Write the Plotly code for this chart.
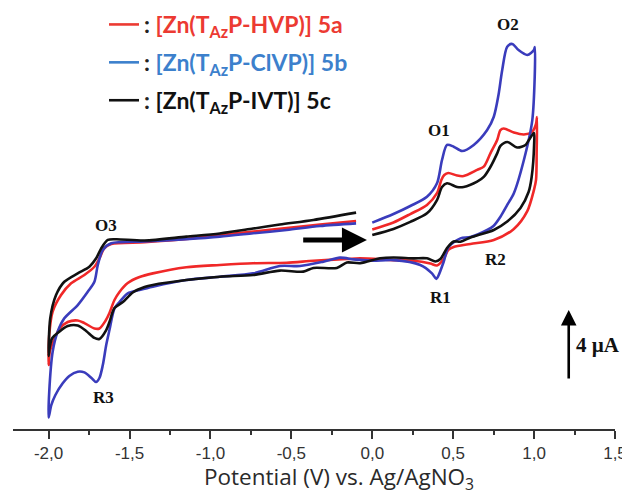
import plotly.graph_objects as go

# ---------------- data ----------------
# Potential in V vs Ag/AgNO3, current in microampere (arbitrary zero)
potential_5a = [0.00, 0.131, 0.235, 0.338, 0.400, 0.427, 0.445, 0.470, 0.524, 0.565, 0.648, 0.689, 0.730, 0.772, 0.792, 0.813, 0.875, 0.937, 0.989, 1.012, 1.018,
                1.016, 1.012, 0.999, 0.958, 0.875, 0.751, 0.607, 0.503, 0.470, 0.441, 0.400, 0.359, 0.255, 0.131, -0.075, -0.157, -0.364, -0.529, -0.736, -0.942, -1.149, -1.356, -1.438, -1.511, -1.562, -1.593, -1.624, -1.649, -1.686, -1.717, -1.779, -1.820, -1.882, -1.934, -1.975, -1.993, -2.0,
                -1.996, -1.975, -1.923, -1.861, -1.779, -1.717, -1.686, -1.655, -1.613, -1.407, -1.149, -0.942, -0.736, -0.529, -0.323, -0.100]
current_5a = [1.86, 2.26, 2.74, 3.26, 3.93, 4.69, 4.97, 5.09, 4.94, 4.91, 5.26, 5.45, 6.21, 6.97, 7.54, 7.63, 7.40, 7.29, 7.45, 7.89, 8.29,
              6.40, 4.69, 4.11, 2.91, 1.89, 1.26, 1.03, 0.86, 0.69, 0.17, -0.20, -0.09, 0.07, 0.11, 0.21, 0.17, 0.07, -0.04, -0.07, -0.17, -0.30, -0.65, -0.86, -1.20, -1.71, -2.17, -2.91, -3.37, -3.80, -3.80, -3.49, -3.34, -3.43, -3.83, -4.65, -5.14, -5.89,
              -4.17, -2.84, -1.89, -1.22, -0.74, -0.27, 0.21, 0.79, 1.03, 1.13, 1.31, 1.54, 1.74, 1.94, 2.14, 2.34]

potential_5b = [0.00, 0.131, 0.235, 0.338, 0.400, 0.431, 0.462, 0.503, 0.555, 0.627, 0.710, 0.751, 0.780, 0.803, 0.834, 0.865, 0.904, 0.958, 0.999, 1.005,
                0.989, 0.937, 0.875, 0.834, 0.792, 0.749, 0.710, 0.607, 0.545, 0.472, 0.441, 0.408, 0.396, 0.369, 0.297, 0.131, 0.007, -0.055, -0.116, -0.199, -0.302, -0.447, -0.571, -0.736, -0.942, -1.149, -1.356, -1.438, -1.511, -1.562, -1.593, -1.624, -1.644, -1.665, -1.686, -1.707, -1.735, -1.779, -1.820, -1.872, -1.913, -1.958, -1.983, -2.0,
                -1.996, -1.975, -1.944, -1.903, -1.820, -1.758, -1.717, -1.696, -1.665, -1.613, -1.407, -1.149, -0.942, -0.736, -0.529, -0.323, -0.100]
current_5b = [2.25, 2.74, 3.20, 3.73, 4.50, 5.83, 6.69, 6.59, 6.34, 6.69, 7.54, 8.30, 9.54, 10.97, 12.30, 12.46, 12.11, 11.83, 12.11, 12.29,
              8.11, 5.83, 3.93, 3.26, 2.59, 2.06, 1.83, 1.43, 1.35, 0.87, 0.00, -0.80, -0.97, -0.65, -0.17, 0.11, 0.07, 0.11, 0.15, 0.25, 0.02, -0.23, -0.23, -0.65, -0.84, -1.03, -1.41, -1.60, -1.79, -2.29, -2.65, -3.89, -4.74, -5.89, -6.63, -6.86, -6.63, -6.31, -6.27, -6.51, -6.93, -7.60, -8.17, -8.89,
              -7.41, -5.13, -3.98, -3.22, -2.46, -1.70, -1.13, -0.17, 0.69, 1.07, 1.17, 1.31, 1.45, 1.64, 1.83, 2.06, 2.21]

potential_5c = [0.00, 0.131, 0.235, 0.338, 0.400, 0.431, 0.462, 0.524, 0.565, 0.648, 0.689, 0.730, 0.772, 0.792, 0.834, 0.896, 0.947, 0.968, 0.999,
                1.000, 0.985, 0.966, 0.916, 0.834, 0.751, 0.607, 0.545, 0.503, 0.462, 0.421, 0.390, 0.338, 0.255, 0.131, 0.049, -0.075, -0.157, -0.219, -0.364, -0.426, -0.571, -0.736, -0.942, -1.149, -1.356, -1.407, -1.480, -1.541, -1.593, -1.624, -1.644, -1.686, -1.717, -1.768, -1.820, -1.882, -1.934, -1.977, -1.993, -2.0,
                -1.990, -1.954, -1.903, -1.820, -1.748, -1.706, -1.675, -1.634, -1.582, -1.407, -1.149, -0.942, -0.736, -0.571, -0.364, -0.100]
current_5c = [1.54, 1.89, 2.29, 2.78, 3.54, 4.29, 4.50, 4.29, 4.29, 4.59, 4.86, 5.43, 6.21, 6.63, 6.86, 6.54, 6.69, 6.97, 7.37,
              6.69, 4.86, 4.00, 3.09, 2.31, 1.83, 1.40, 1.16, 1.17, 0.80, 0.17, 0.03, 0.21, 0.21, 0.26, 0.21, -0.07, -0.03, -0.34, -0.34, -0.55, -0.49, -0.74, -0.84, -1.03, -1.31, -1.43, -1.74, -2.29, -2.63, -3.43, -3.89, -4.40, -4.34, -3.94, -3.63, -3.66, -3.98, -4.34, -4.86, -5.37,
              -3.22, -1.89, -1.13, -0.65, -0.27, 0.21, 0.78, 1.26, 1.30, 1.23, 1.45, 1.63, 1.91, 2.14, 2.40, 2.82]

legend_names = ["[Zn(T<sub>Az</sub>P-HVP)] 5a", "[Zn(T<sub>Az</sub>P-ClVP)] 5b", "[Zn(T<sub>Az</sub>P-IVT)] 5c"]
curve_colors = ["#f02828", "#3a3cbc", "#111111"]
legend_colors = ["#ec3a32", "#3c80cc", "#111111"]

tick_values = [-2.0, -1.5, -1.0, -0.5, 0.0, 0.5, 1.0, 1.5]
tick_labels = ["-2,0", "-1,5", "-1,0", "-0,5", "0,0", "0,5", "1,0", "1,5"]
minor_tick_values = [-1.75, -1.25, -0.75, -0.25, 0.25, 0.75, 1.25]

peak_labels = ["O1", "O2", "O3", "R1", "R2", "R3"]
peak_potential = [0.414, 0.836, -1.643, 0.421, 0.761, -1.661]
peak_current = [7.49, 13.6, 2.06, -2.0, 0.17, -7.77]

scan_arrow_from = (-0.436, 1.26)
scan_arrow_to = (-0.033, 1.26)
scale_bar_potential = 1.214
scale_bar_bottom = -6.74
scale_bar_size = 4.0  # microampere

# ---------------- figure ----------------
fig = go.Figure()
series = [(potential_5a, current_5a), (potential_5b, current_5b), (potential_5c, current_5c)]
for (xv, yv), col in zip(series, curve_colors):
    fig.add_trace(go.Scatter(x=xv, y=yv, mode="lines", showlegend=False,
                             line=dict(color=col, width=2.6, shape="spline", smoothing=0.8),
                             hoverinfo="skip"))

for i, (name, lc) in enumerate(zip(legend_names, legend_colors)):
    fig.add_trace(go.Scatter(x=[None], y=[None], mode="lines",
                             name=f"<b>: <span style='color:{lc}'>{name}</span></b>",
                             legendgroup=f"g{i}",
                             line=dict(color=lc, width=2.6)))

annotations = []
for lab, px, py in zip(peak_labels, peak_potential, peak_current):
    annotations.append(dict(x=px, y=py, xref="x", yref="y", text=f"<b>{lab}</b>", showarrow=False,
                            font=dict(family="Liberation Serif", size=17, color="#111111")))

annotations.append(dict(x=scan_arrow_to[0], y=scan_arrow_to[1], ax=scan_arrow_from[0], ay=scan_arrow_from[1],
                        xref="x", yref="y", axref="x", ayref="y", text="", showarrow=True,
                        arrowhead=2, arrowsize=1.0, arrowwidth=5, arrowcolor="#000000"))
annotations.append(dict(x=scale_bar_potential, y=scale_bar_bottom + scale_bar_size,
                        ax=scale_bar_potential, ay=scale_bar_bottom,
                        xref="x", yref="y", axref="x", ayref="y", text="", showarrow=True,
                        arrowhead=2, arrowsize=1.2, arrowwidth=2.6, arrowcolor="#000000"))
annotations.append(dict(x=scale_bar_potential + 0.03, y=scale_bar_bottom + scale_bar_size / 2,
                        xref="x", yref="y", text="<b>4 µA</b>", showarrow=False, xanchor="left",
                        font=dict(family="Liberation Serif", size=21, color="#111111")))
annotations.append(dict(x=0.5415, y=-0.119, xref="paper", yref="paper",
                        text="Potential (V) vs. Ag/AgNO<sub>3</sub>", showarrow=False,
                        xanchor="center", yanchor="middle",
                        font=dict(family="Open Sans", size=22.5, color="#2a2a2a")))

# the page body adds an 8 px offset, so the figure is laid out 8 px up/left
fig.update_layout(
    width=630, height=498,
    margin=dict(l=5, r=23, t=12, b=77, autoexpand=False),
    paper_bgcolor="white", plot_bgcolor="white",
    showlegend=True,
    legend=dict(x=0.1512, y=1.0416, xref="paper", yref="paper",
                xanchor="left", yanchor="top", tracegroupgap=5,
                font=dict(family="Lato", size=23, color="#222222"),
                bgcolor="rgba(0,0,0,0)"),
    annotations=annotations,
    xaxis=dict(range=[-2.22, 1.5], tickvals=tick_values, ticktext=tick_labels,
               showline=True, linecolor="#333333", linewidth=2,
               ticks="outside", ticklen=8, tickwidth=2, tickcolor="#333333",
               minor=dict(tickvals=minor_tick_values, ticks="outside", ticklen=4, tickwidth=2, tickcolor="#333333"),
               showgrid=False, zeroline=False, ticklabeloverflow="allow",
               tickfont=dict(family="Liberation Sans", size=17, color="#333333")),
    yaxis=dict(range=[-9.543, 13.829], visible=False, showgrid=False, zeroline=False),
)

fig.write_html("out.html")
